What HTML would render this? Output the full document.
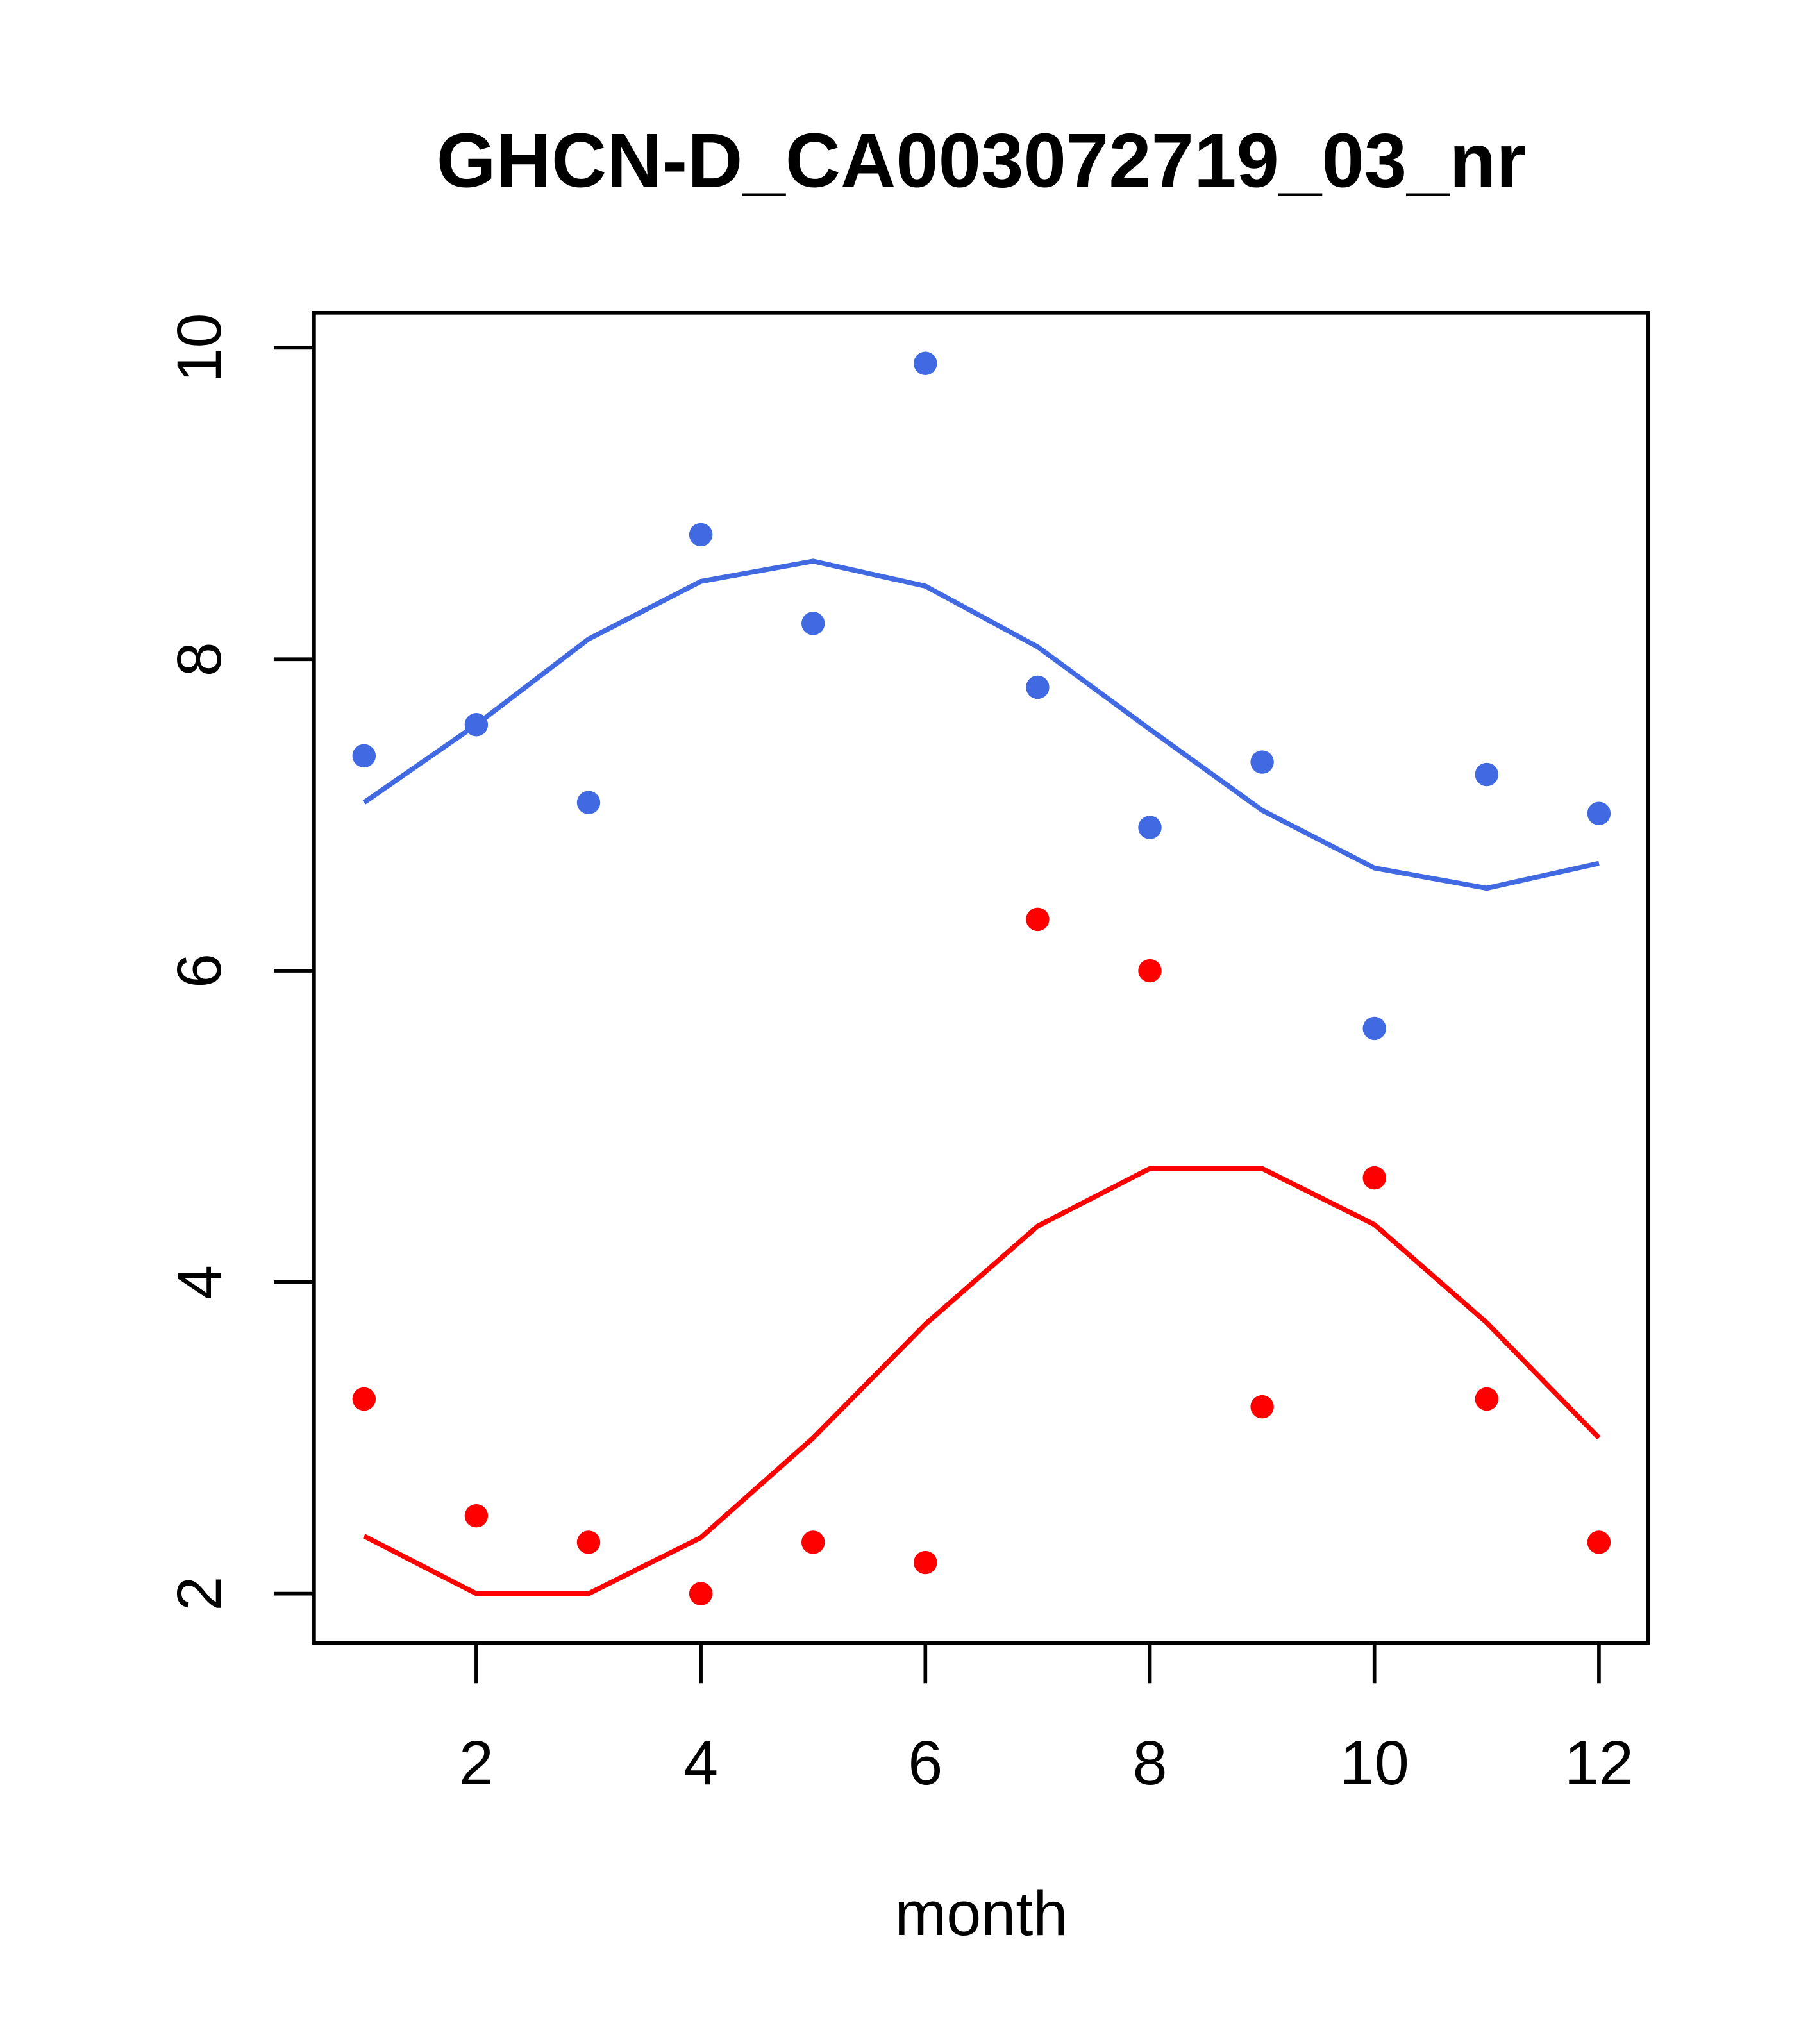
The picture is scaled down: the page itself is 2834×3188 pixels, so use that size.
<!DOCTYPE html>
<html><head><meta charset="utf-8"><style>
html,body{margin:0;padding:0;background:#fff;}
svg{display:block;}
text{font-family:"Liberation Sans",Arial,sans-serif;}
</style></head><body>
<svg id="chart" width="2834" height="3188" viewBox="0 0 1400 1575" preserveAspectRatio="none" xmlns="http://www.w3.org/2000/svg">
<rect x="0" y="0" width="1400" height="1575" fill="#fff"/>
<text x="756" y="144" text-anchor="middle" font-size="59" font-weight="bold">GHCN-D_CA003072719_03_nr</text>
<rect x="242" y="241" width="1028" height="1025" fill="none" stroke="#000" stroke-width="2.8"/>
<g id="xaxis"></g>
<g id="yaxis"></g>
<g id="marks"></g>
<text x="756" y="1491" text-anchor="middle" font-size="48">month</text>
</svg>
<script>
const months = [1,2,3,4,5,6,7,8,9,10,11,12];
const bluePoints = [7.38,7.58,7.08,8.8,8.23,9.9,7.82,6.92,7.34,5.63,7.26,7.01];
const blueLine = [7.08,7.58,8.13,8.5,8.63,8.47,8.08,7.55,7.03,6.66,6.53,6.69];
const redPoints = [3.25,2.5,2.33,2.0,2.33,2.2,6.33,6.0,3.2,4.67,3.25,2.33];
const redLine = [2.37,2.0,2.0,2.36,3.0,3.73,4.36,4.73,4.73,4.37,3.74,3.0];
const xTicks = [2,4,6,8,10,12];
const yTicks = [2,4,6,8,10];

const NS = "http://www.w3.org/2000/svg";
function xs(m){ return 280.5 + (m-1)*86.5; }
function ys(v){ return 268 + (10-v)*120; }
function mk(tag, attrs){ const e=document.createElementNS(NS,tag); for(const k in attrs) e.setAttribute(k,attrs[k]); return e; }

const xa=document.getElementById('xaxis'), ya=document.getElementById('yaxis'), marks=document.getElementById('marks');
xTicks.forEach(t=>{
  const l=mk('line',{x1:xs(t),x2:xs(t),y1:1266,y2:1297,stroke:'#000','stroke-width':2.8});
  
  
  xa.appendChild(l);
  const tx=mk('text',{x:xs(t),y:1375,'text-anchor':'middle','font-size':48});
  tx.textContent=t;
  
  
  xa.appendChild(tx);
});
yTicks.forEach(t=>{
  const l=mk('line',{x1:211,x2:242,y1:ys(t),y2:ys(t),stroke:'#000','stroke-width':2.8});
  
  
  ya.appendChild(l);
  const tx=mk('text',{x:0,y:0,'text-anchor':'middle','font-size':48,transform:`translate(170,${ys(t)}) rotate(-90)`});
  tx.textContent=t;
  
  
  ya.appendChild(tx);
});
function line(vals,color,name){
  const p=mk('polyline',{points:vals.map((v,i)=>xs(months[i])+','+ys(v)).join(' '),fill:'none',stroke:color,'stroke-width':3.8,'stroke-linejoin':'round'});
  
  
  marks.appendChild(p);
}
function pts(vals,color,name){
  vals.forEach((v,i)=>{
    const c=mk('circle',{cx:xs(months[i]),cy:ys(v),r:9,fill:color});
    
    
    marks.appendChild(c);
  });
}
line(blueLine,'#4169e1','blue-fit-line');
line(redLine,'#ff0000','red-fit-line');
pts(bluePoints,'#4169e1','blue-point');
pts(redPoints,'#ff0000','red-point');
</script>
</body></html>
